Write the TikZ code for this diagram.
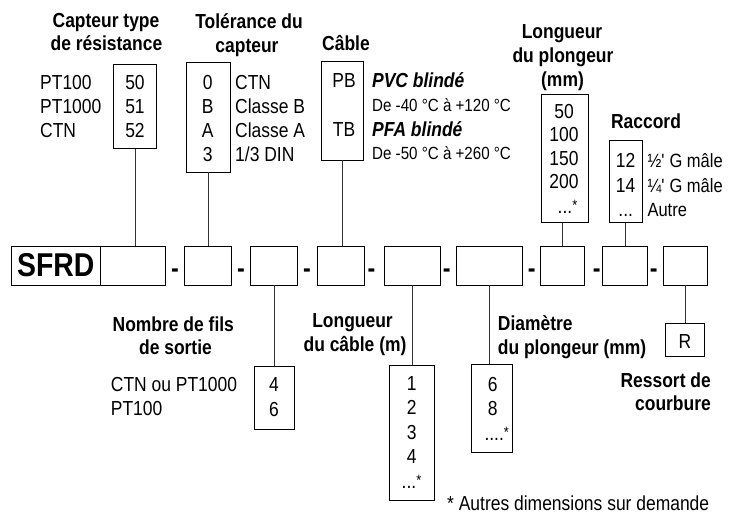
\documentclass[tikz,border=0pt]{standalone}
\usepackage{fontspec}
\setmainfont{Liberation Sans}[FakeStretch=0.86]
\newcommand{\astsup}{\raisebox{3pt}{\fontsize{15}{15}\selectfont *}}
\begin{document}
\begin{tikzpicture}[x=1pt,y=-1pt,
  bx/.style={draw=black, line width=0.8pt, inner sep=0pt},
  con/.style={draw=black!80, line width=0.8pt},
  t/.style={inner sep=0pt, anchor=base, font=\fontsize{20.3}{20.3}\selectfont},
  tl/.style={t, anchor=base west},
  tr/.style={t, anchor=base east},
  ts/.style={tl, font=\fontsize{17.6}{17.6}\selectfont},
  tm/.style={tl, font=\fontsize{19.2}{19.2}\selectfont},
  hd/.style={t, font=\fontsize{20.3}{20.3}\selectfont\bfseries},
  hdl/.style={hd, anchor=base west},
  hdr/.style={hd, anchor=base east},
  dsh/.style={t, font=\fontsize{27}{27}\selectfont\bfseries}]
\useasboundingbox (0,0) rectangle (740,515);

% ---------- main code row ----------
\node[bx, minimum width=88.3pt, minimum height=38.3pt] (sfrd) at (55.85,265.85) {};
\node[t, font=\fontsize{33}{33}\selectfont\bfseries] (sfrdt) at (55.85,276.5) {SFRD};
\node[bx, minimum width=65.7pt, minimum height=38.3pt] (b1) at (132.85,265.85) {};
\node[bx, minimum width=47.4pt, minimum height=38.3pt] (b2) at (208,265.85) {};
\node[bx, minimum width=46.6pt, minimum height=38.3pt] (b3) at (274,265.85) {};
\node[bx, minimum width=46.7pt, minimum height=38.3pt] (b4) at (340.65,265.85) {};
\node[bx, minimum width=55.7pt, minimum height=38.3pt] (b5) at (412.15,265.85) {};
\node[bx, minimum width=65.6pt, minimum height=38.3pt] (b6) at (489.5,265.85) {};
\node[bx, minimum width=44pt, minimum height=38.3pt] (b7) at (562.3,265.85) {};
\node[bx, minimum width=44.6pt, minimum height=38.3pt] (b8) at (625,265.85) {};
\node[bx, minimum width=44.4pt, minimum height=38.3pt] (b9) at (685.5,265.85) {};
\foreach \x [count=\i] in {175,241,307,371.5,446.7,531.7,596.7,653.7}
  \node[dsh] (dash\i) at (\x,277.5) {-};

% ---------- Capteur type ----------
\node[hd] (h1a) at (106,27) {Capteur type};
\node[hd] (h1b) at (106.5,50) {de résistance};
\node[bx, minimum width=43.4pt, minimum height=84pt] (capbox) at (135,106.3) {};
\foreach \v [count=\i] in {50,51,52}
  \node[t] (capv\i) at (135,{89+24*(\i-1)}) {\v};
\foreach \v [count=\i] in {PT100,PT1000,CTN}
  \node[tl] (capl\i) at (40,{89+24*(\i-1)}) {\v};

% ---------- Tolerance ----------
\node[hd] (h2a) at (249,28) {Tolérance du};
\node[hd] (h2b) at (247,52) {capteur};
\node[bx, minimum width=44pt, minimum height=109.7pt] (tolbox) at (208,117.2) {};
\foreach \v [count=\i] in {0,B,A,3}
  \node[t] (tolv\i) at (207.7,{89+24*(\i-1)}) {\v};
\foreach \v [count=\i] in {CTN,Classe B,Classe A,1/3 DIN}
  \node[tl] (toll\i) at (235,{89+24*(\i-1)}) {\v};

% ---------- Cable ----------
\node[hd] (h3) at (346,50) {Câble};
\node[bx, minimum width=42.3pt, minimum height=99pt] (cabbox) at (342.2,110.5) {};
\node[t] (cabv1) at (344,87) {PB};
\node[t] (cabv2) at (344,136) {TB};
\node[hdl, font=\fontsize{20.3}{20.3}\selectfont\bfseries\itshape] (cabl1) at (372,87) {PVC blindé};
\node[ts] (cabl2) at (372,111) {De -40 °C à +120 °C};
\node[hdl, font=\fontsize{20.3}{20.3}\selectfont\bfseries\itshape] (cabl3) at (372,136) {PFA blindé};
\node[ts] (cabl4) at (372,159) {De -50 °C à +260 °C};

% ---------- Longueur du plongeur ----------
\node[hd] (h4a) at (562,38) {Longueur};
\node[hd] (h4b) at (563,62) {du plongeur};
\node[hd] (h4c) at (562.5,86) {(mm)};
\node[bx, minimum width=46.6pt, minimum height=128.7pt] (plbox) at (565,158.4) {};
\foreach \v [count=\i] in {50,100,150,200}
  \node[t] (plv\i) at (564,{118+23.5*(\i-1)}) {\v};
\node[tl] (plv5) at (557.5,213) {...\astsup};

% ---------- Raccord ----------
\node[hd] (h5) at (646,128) {Raccord};
\node[bx, minimum width=33pt, minimum height=82.7pt] (racbox) at (625.8,181.4) {};
\node[t] (racv1) at (625.7,167.7) {12};
\node[t] (racv2) at (625.7,192.7) {14};
\node[t] (racv3) at (625.7,216.7) {...};
\node[tm] (racl1) at (647.3,167.7) {½\textquotesingle\ G mâle};
\node[tm] (racl2) at (647.3,192.7) {¼\textquotesingle\ G mâle};
\node[tm] (racl3) at (647.3,216.7) {Autre};

% ---------- Nombre de fils ----------
\node[hd] (h6a) at (173.3,331.7) {Nombre de fils};
\node[hd] (h6b) at (175.5,354) {de sortie};
\node[bx, minimum width=40pt, minimum height=62.3pt] (filsbox) at (274,397.85) {};
\node[t] (filsv1) at (274,391.7) {4};
\node[t] (filsv2) at (274,416.7) {6};
\node[tl] (filsl1) at (110.7,391.7) {CTN ou PT1000};
\node[tl] (filsl2) at (110.7,415.7) {PT100};

% ---------- Longueur du cable ----------
\node[hd] (h7a) at (352.5,327) {Longueur};
\node[hd] (h7b) at (355,351) {du câble (m)};
\node[bx, minimum width=44.7pt, minimum height=135pt] (cablen) at (411.65,432.5) {};
\foreach \v [count=\i] in {1,2,3,4}
  \node[t] (clv\i) at (411.7,{390+24.5*(\i-1)}) {\v};
\node[tl] (clv5) at (401.5,488) {...\astsup};

% ---------- Diametre ----------
\node[hdl] (h8a) at (497.7,330) {Diamètre};
\node[hdl] (h8b) at (497.7,354) {du plongeur (mm)};
\node[bx, minimum width=41pt, minimum height=88.4pt] (diambox) at (492.2,408.5) {};
\node[t] (dv1) at (492.7,391) {6};
\node[t] (dv2) at (492.7,415) {8};
\node[tl] (dv3) at (484.3,440) {....\astsup};

% ---------- Ressort ----------
\node[bx, minimum width=39pt, minimum height=33.4pt] (rbox) at (684.8,340) {};
\node[t] (rv) at (685,348) {R};
\node[hdr] (h9a) at (711,387) {Ressort de};
\node[hdr] (h9b) at (711,410) {courbure};

% ---------- note ----------
\node[tl] (note) at (447,510) {* Autres dimensions sur demande};

% ---------- connectors ----------
\draw[con] (capbox.south) -- (capbox.south |- b1.north);
\draw[con] (tolbox.south) -- (tolbox.south |- b2.north);
\draw[con] (cabbox.south) -- (cabbox.south |- b4.north);
\draw[con] (b7.north) -- (b7.north |- plbox.south);
\draw[con] (b8.north) -- (b8.north |- racbox.south);
\draw[con] (b3.south) -- (b3.south |- filsbox.north);
\draw[con] (b5.south) -- (b5.south |- cablen.north);
\draw[con] (b6.south) -- (b6.south |- diambox.north);
\draw[con] (b9.south) -- (b9.south |- rbox.north);
\end{tikzpicture}
\end{document}
